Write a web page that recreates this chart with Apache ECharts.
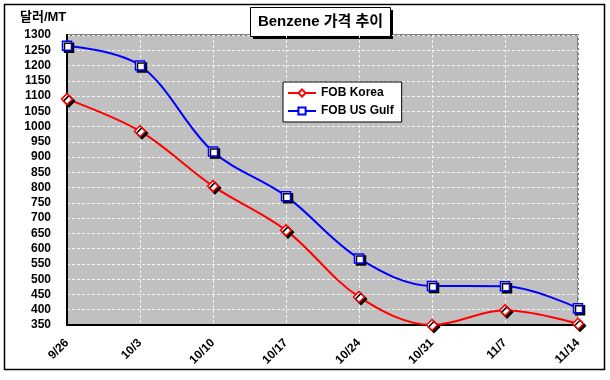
<!DOCTYPE html>
<html><head><meta charset="utf-8">
<script src="https://cdn.jsdelivr.net/npm/echarts@6/dist/echarts.min.js"></script>
<style>html,body{margin:0;padding:0;background:#fff}#c{width:610px;height:380px}</style>
</head><body><div id="c"></div>
<script>
const categories = ['9/26','10/3','10/10','10/17','10/24','10/31','11/7','11/14'];
const korea = [1090, 985, 805, 660, 442, 350, 398, 354];
const usGulf = [1265, 1200, 918, 772, 568, 478, 477, 405];
const seriesNames = ['FOB Korea', 'FOB US Gulf'];
const titleText = 'Benzene 가격 추이';
const unitText = '달러/MT';

const FONT = '"Liberation Sans", Arial, sans-serif';
const chart = echarts.init(document.getElementById('c'), null, {renderer: 'canvas'});
const shadow = {shadowColor: '#000', shadowOffsetX: 2, shadowOffsetY: 2, shadowBlur: 0};
chart.setOption({
  animation: false,
  backgroundColor: '#fff',
  grid: {left: 67, right: 32, top: 35, bottom: 55, show: true, backgroundColor: '#c0c0c0', borderColor: '#808080', borderWidth: 2},
  legend: {
    orient: 'vertical', left: 283, top: 82, itemWidth: 28, itemHeight: 9, itemGap: 6,
    backgroundColor: '#fff', borderColor: '#000', borderWidth: 1, padding: [5, 8, 5, 4],
    textStyle: {fontFamily: FONT, fontWeight: 'bold', fontSize: 12, color: '#000'},
    data: seriesNames
  },
  xAxis: {
    type: 'category', data: categories, boundaryGap: false,
    axisLine: {lineStyle: {color: '#000', width: 2}},
    axisTick: {show: false},
    axisLabel: {rotate: 45, margin: 16, fontFamily: FONT, fontWeight: 'bold', fontSize: 12, color: '#000', interval: 0},
    splitLine: {show: true, lineStyle: {color: '#f4f4f4', type: [3, 2], width: 1}}
  },
  yAxis: {
    type: 'value', min: 350, max: 1300, interval: 50,
    axisLine: {show: true, lineStyle: {color: '#000', width: 2}},
    axisTick: {show: false},
    axisLabel: {margin: 16, fontFamily: FONT, fontWeight: 'bold', fontSize: 12, color: '#000', formatter: v => String(v)},
    splitLine: {show: true, lineStyle: {color: '#f4f4f4', type: [3, 2], width: 1}}
  },
  series: [
    {name: seriesNames[0], type: 'line', data: korea, smooth: 0.35, symbol: 'diamond', symbolSize: 11,
     lineStyle: {color: '#ff0000', width: 2},
     itemStyle: Object.assign({color: '#fff', borderColor: '#ff0000', borderWidth: 1.5}, shadow), z: 3},
    {name: seriesNames[1], type: 'line', data: usGulf, smooth: 0.35, symbol: 'rect', symbolSize: 9,
     lineStyle: {color: '#0000ff', width: 2},
     itemStyle: Object.assign({color: '#fff', borderColor: '#0000ff', borderWidth: 1.5}, shadow), z: 3}
  ],
  graphic: [
    {type: 'rect', shape: {x: 4.5, y: 4.5, width: 600, height: 365}, style: {fill: 'none', stroke: '#000', lineWidth: 1.5}, silent: true},
    {type: 'rect', shape: {x: 253, y: 10, width: 140, height: 29}, style: {fill: '#000'}, silent: true},
    {type: 'rect', shape: {x: 250.5, y: 7.5, width: 140, height: 29}, style: {fill: '#fff', stroke: '#000', lineWidth: 1}, silent: true},
    {type: 'text', x: 320.5, y: 22, style: {text: titleText, fill: '#000', font: 'bold 15px "Liberation Sans", "Noto Sans CJK KR", sans-serif', textAlign: 'center', textVerticalAlign: 'middle'}, silent: true},
    {type: 'text', x: 20, y: 17, style: {text: unitText, fill: '#000', font: 'bold 13px "Liberation Sans", "Noto Sans CJK KR", sans-serif', textAlign: 'left', textVerticalAlign: 'middle'}, silent: true}
  ]
});
</script></body></html>
